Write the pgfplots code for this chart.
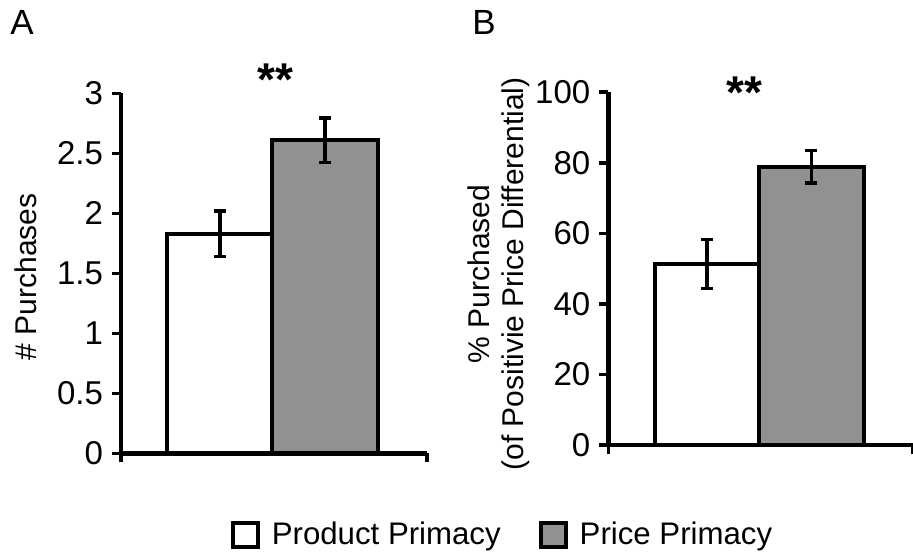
\documentclass[border=0pt]{standalone}
\usepackage{fontspec}
\setmainfont{Liberation Sans}
\usepackage{pgfplots}
\pgfplotsset{compat=1.18}
\definecolor{barfill}{HTML}{919191}

\pgfplotsset{
  panel/.style={
    scale only axis, clip=false,
    axis lines=left, axis line style={-, line width=2.2pt},
    xmin=0, xmax=3, xtick={0,3}, xticklabels={},
    tick align=outside, major tick length=4.5pt,
    tick style={line width=1.8pt, black},
    ybar, bar width=1.03,
    ticklabel style={font=\fontsize{16.5}{18}\selectfont},
    yticklabel style={xshift=-1pt},
    /pgf/number format/assume math mode=true,
    ylabel style={font=\fontsize{15}{17}\selectfont, align=center, anchor=center},
  },
  bars/.style={draw=black, line width=2pt, bar shift=0,
    legend image code/.code={\draw[##1, line width=2pt] (0pt,-6.2pt) rectangle (12.4pt,6.2pt); \path (16.5pt,0pt);},
    error bars/y dir=both, error bars/y explicit, error bars/error mark=|,
    error bars/error bar style={line width=1.7pt, black},
    error bars/error mark options={line width=1.7pt, mark size=3pt, black}},
}

\begin{document}
\begin{tikzpicture}
  \path[use as bounding box] (0,0) rectangle (456.5pt,278.5pt);

  \node[anchor=base west, font=\fontsize{17.5}{19}\selectfont, inner sep=0pt] at (5pt,261pt) {A};
  \node[anchor=base west, font=\fontsize{17.5}{19}\selectfont, inner sep=0pt] at (236pt,261pt) {B};

  % Panel A: number of purchases
  \begin{axis}[panel,
    at={(60.5pt,51.85pt)}, anchor=south west,
    width=153pt, height=180pt,
    ymin=0, ymax=3, ytick={0,0.5,...,3},
    ylabel={\# Purchases},
    ylabel style={at={(axis description cs:-0.31,0.49)}},
    legend columns=2,
    legend style={at={(axis description cs:1.25,-0.227)}, anchor=center,
      draw=none, fill=none, font=\fontsize{15.6}{17}\selectfont,
      /tikz/every even column/.append style={column sep=17pt}},
  ]
    \addplot[bars, fill=white] coordinates {(0.97,1.83) +- (0,0.19)};
    \addlegendentry{Product Primacy}
    \addplot[bars, fill=barfill] coordinates {(2.0,2.61) +- (0,0.185)};
    \addlegendentry{Price Primacy}
    \node[font=\bfseries\fontsize{23}{24}\selectfont] at (axis cs:1.51,3.11) {**};
  \end{axis}

  % Panel B: percent purchased
  \begin{axis}[panel,
    at={(304.15pt,56pt)}, anchor=south west,
    width=152.35pt, height=176.35pt,
    ymin=0, ymax=100, ytick={0,20,...,100},
    ylabel={\% Purchased\\(of Positivie Price Differential)},
    ylabel style={at={(axis description cs:-0.36,0.485)}},
  ]
    \addplot[bars, fill=white] coordinates {(0.97,51.3) +- (0,7.0)};
    \addplot[bars, fill=barfill] coordinates {(2.0,78.9) +- (0,4.6)};
    \node[font=\bfseries\fontsize{23}{24}\selectfont] at (axis cs:1.34,99.8) {**};
  \end{axis}
\end{tikzpicture}
\end{document}
